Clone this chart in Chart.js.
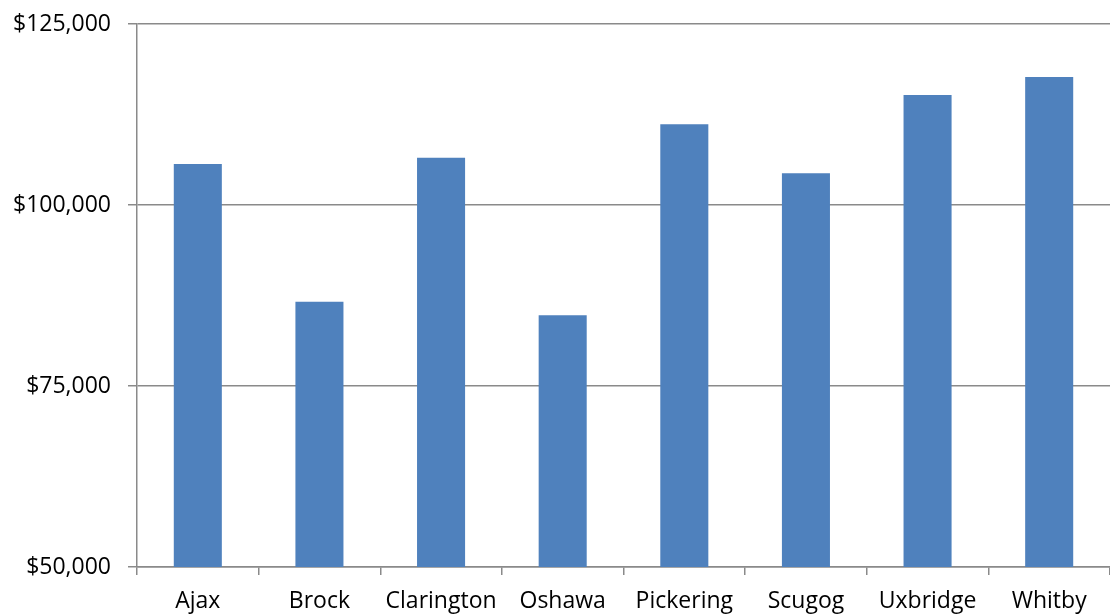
<!DOCTYPE html>
<html>
<head>
<meta charset="utf-8">
<script src="https://cdn.jsdelivr.net/npm/chart.js@4/dist/chart.umd.min.js"></script>
<style>
  html, body { margin: 0; padding: 0; background: #ffffff; }
  #wrap { width: 1110px; height: 615px; position: relative; }
</style>
</head>
<body>
<div id="wrap"><canvas id="chart"></canvas></div>
<script>
// Municipalities of Durham Region
const municipalities = ['Ajax', 'Brock', 'Clarington', 'Oshawa', 'Pickering', 'Scugog', 'Uxbridge', 'Whitby'];
// Median household income by municipality
const incomeValues = [105660, 86640, 106530, 84770, 111150, 104380, 115190, 117680];
// Value-axis range and step
const axisMin = 50000;
const axisMax = 125000;
const axisStep = 25000;

const axisGray = '#8a8a8a';
const fontFamily = '"Open Sans", "Noto Sans", "Liberation Sans", sans-serif';

new Chart(document.getElementById('chart'), {
  type: 'bar',
  data: {
    labels: municipalities,
    datasets: [{
      data: incomeValues,
      backgroundColor: '#4F81BD',
      borderWidth: 0,
      barPercentage: 0.395,
      categoryPercentage: 1.0
    }]
  },
  options: {
    responsive: true,
    maintainAspectRatio: false,
    animation: false,
    layout: { autoPadding: false, padding: { top: 24, right: 0, left: 0, bottom: 0 } },
    plugins: {
      legend: { display: false },
      tooltip: { enabled: false }
    },
    scales: {
      x: {
        offset: true,
        grid: {
          display: true,
          drawOnChartArea: false,
          drawTicks: true,
          tickLength: 8,
          color: axisGray,
          lineWidth: 1.5
        },
        border: { display: true, color: axisGray, width: 1.5 },
        ticks: {
          color: '#000000',
          font: { family: fontFamily, size: 23 },
          padding: 13,
          maxRotation: 0,
          autoSkip: false
        },
        afterFit: (scale) => { scale.height = 48; }
      },
      y: {
        min: axisMin,
        max: axisMax,
        grid: {
          color: axisGray,
          lineWidth: 1.5,
          drawTicks: true,
          tickLength: 9
        },
        border: { display: true, color: axisGray, width: 1.5 },
        ticks: {
          stepSize: axisStep,
          color: '#000000',
          font: { family: fontFamily, size: 23 },
          padding: 17,
          callback: (v) => '$' + v.toLocaleString('en-US')
        },
        afterFit: (scale) => {
          scale.width = 137;
          scale.paddingTop = 0;
          scale.paddingBottom = 0;
        }
      }
    }
  }
});
</script>
</body>
</html>
